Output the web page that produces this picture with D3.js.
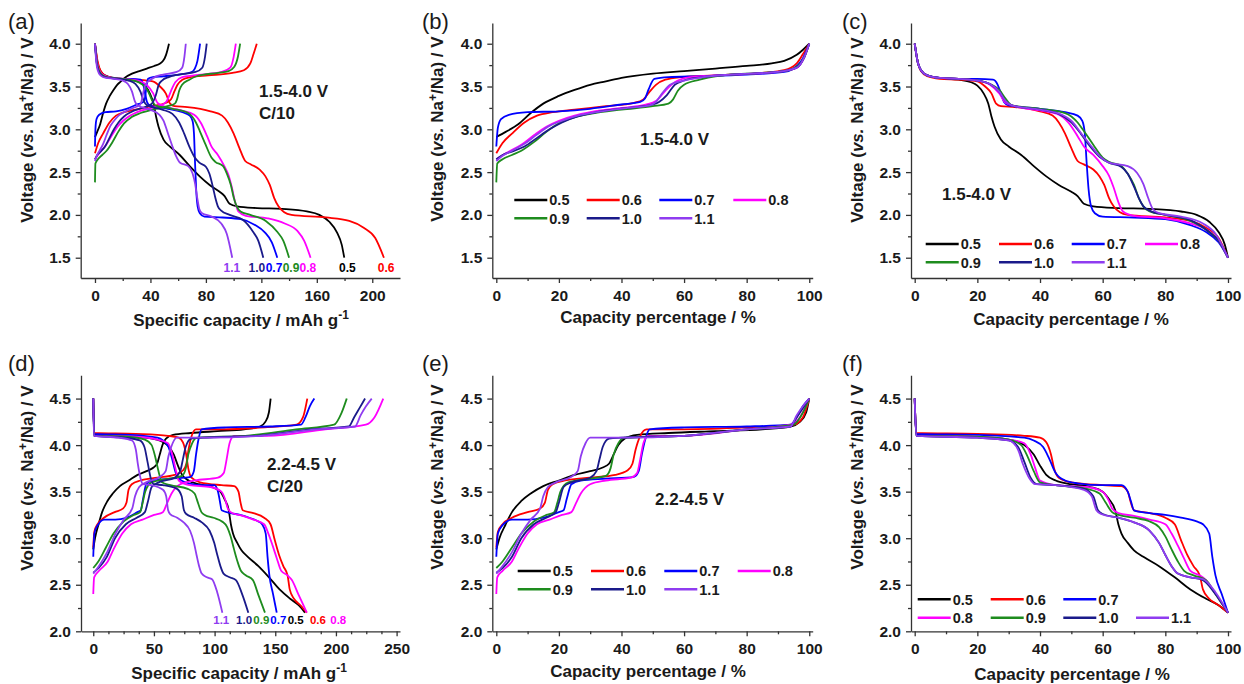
<!DOCTYPE html>
<html>
<head>
<meta charset="utf-8">
<script src="https://cdn.jsdelivr.net/npm/d3@7"></script>
<style>
  body { margin: 0; background: #fff; }
  svg { font-family: "Liberation Sans", Arial, sans-serif; }
  .tick text { font-weight: bold; font-size: 15.5px; fill: #1a1a1a; }
  .domain, .tick line { stroke: #333; stroke-width: 1.3; }
</style>
</head>
<body>
<svg id="chart" width="1244" height="684"></svg>
<script>
// series names and colours
const series = ["0.5", "0.6", "0.7", "0.8", "0.9", "1.0", "1.1"];
const colors = ["#000000", "#ff0000", "#0000ff", "#ff00ff", "#1e8c1e", "#1a1a8a", "#8f3cf0"];

// (b) charge 1.5-4.0 V, [capacity %, voltage]
const chargeLowPct = [
  [[0,2.91],[3,2.97],[7,3.06],[11,3.19],[15,3.3],[20,3.39],[25,3.46],[30,3.52],[35,3.56],[40,3.6],[50,3.65],[60,3.68],[70,3.71],[80,3.74],[88,3.77],[92,3.8],[96,3.87],[98,3.93],[100,4.0]],
  [[0,2.72],[2,2.84],[5,2.95],[9,3.08],[13,3.16],[18,3.2],[25,3.23],[35,3.27],[44,3.31],[47,3.35],[49,3.44],[51,3.52],[54,3.58],[59,3.61],[70,3.63],[85,3.66],[92,3.69],[96,3.77],[98,3.88],[100,4.0]],
  [[0,2.8],[0.5,3.02],[1.5,3.12],[4,3.17],[10,3.2],[20,3.21],[30,3.24],[40,3.29],[46,3.32],[47.5,3.36],[48.7,3.47],[50.5,3.59],[55,3.61],[65,3.62],[80,3.64],[92,3.67],[95,3.71],[97.5,3.8],[100,4.0]],
  [[0,2.65],[3,2.72],[8,2.82],[12,2.93],[16,3.03],[20,3.1],[25,3.16],[30,3.2],[40,3.25],[48,3.29],[51,3.33],[54,3.45],[57,3.55],[62,3.61],[70,3.63],[90,3.67],[96,3.72],[98.5,3.85],[100,4.0]],
  [[0,2.38],[0.3,2.6],[2,2.65],[5,2.7],[8,2.75],[12,2.85],[16,2.97],[20,3.07],[25,3.14],[30,3.18],[40,3.23],[50,3.27],[55,3.3],[56.5,3.35],[58,3.45],[60,3.52],[65,3.58],[70,3.62],[85,3.66],[92,3.68],[96,3.73],[98.5,3.85],[100,4.0]],
  [[0,2.65],[2,2.7],[5,2.74],[9,2.8],[13,2.9],[17,3.0],[21,3.08],[26,3.15],[32,3.2],[42,3.25],[50,3.29],[52,3.32],[54.5,3.4],[57,3.52],[60,3.57],[66,3.61],[75,3.64],[90,3.67],[96,3.72],[98.5,3.85],[100,4.0]],
  [[0,2.63],[2,2.69],[5,2.75],[9,2.83],[13,2.94],[17,3.04],[21,3.1],[26,3.16],[32,3.2],[42,3.25],[49,3.28],[51,3.32],[53,3.42],[55.5,3.52],[60,3.57],[66,3.61],[75,3.64],[90,3.67],[96,3.72],[98.5,3.85],[100,4.0]]
];

// (c) discharge 1.5-4.0 V, [capacity %, voltage]
const dischargeLowPct = [
  [[0,4.0],[1,3.78],[2,3.69],[4,3.63],[8,3.6],[14,3.58],[18,3.55],[20,3.51],[22,3.42],[23.5,3.3],[24.5,3.15],[25.5,3.03],[27.5,2.88],[30,2.8],[34,2.7],[38,2.57],[42,2.45],[46,2.35],[50,2.27],[52,2.22],[54,2.13],[57,2.1],[65,2.08],[75,2.07],[85,2.04],[90,2.0],[94,1.92],[97,1.8],[99,1.65],[100,1.5]],
  [[0,4.0],[1,3.78],[2,3.68],[4,3.62],[8,3.59],[14,3.58],[20,3.56],[22.5,3.5],[24.5,3.42],[26,3.3],[27.5,3.27],[32,3.26],[40,3.21],[44,3.16],[46,3.08],[48,2.95],[50,2.78],[52,2.63],[54,2.59],[57,2.53],[59,2.45],[60.5,2.35],[62,2.2],[63.5,2.1],[65.5,2.03],[68,2.0],[80,1.97],[88,1.93],[93,1.85],[97,1.73],[100,1.5]],
  [[0,4.0],[1,3.78],[2,3.69],[4,3.63],[8,3.6],[14,3.59],[20,3.59],[25,3.58],[26.5,3.52],[27.5,3.42],[28.5,3.32],[30,3.28],[40,3.24],[48,3.2],[52,3.16],[53.5,3.1],[54.3,2.95],[54.9,2.6],[55.5,2.3],[56.3,2.1],[57.5,2.02],[60,1.98],[70,1.97],[80,1.95],[88,1.88],[93,1.8],[97,1.68],[100,1.5]],
  [[0,4.0],[1,3.78],[2,3.69],[4,3.63],[8,3.6],[14,3.59],[20,3.57],[24,3.52],[27,3.42],[29,3.31],[32,3.27],[40,3.22],[46,3.17],[49,3.08],[52,2.92],[54,2.8],[57,2.7],[60,2.57],[62,2.46],[63.5,2.32],[65,2.15],[66.5,2.04],[70,1.99],[80,1.96],[88,1.9],[94,1.81],[97,1.7],[100,1.5]],
  [[0,4.0],[1,3.78],[2,3.69],[4,3.63],[8,3.6],[14,3.59],[20,3.57],[24,3.53],[27,3.46],[29,3.36],[31,3.28],[40,3.24],[48,3.19],[52,3.08],[54,2.98],[57,2.82],[60,2.67],[62,2.62],[66,2.57],[68,2.48],[70,2.35],[71.5,2.2],[73,2.1],[75,2.04],[80,2.0],[88,1.93],[94,1.8],[97,1.7],[100,1.5]],
  [[0,4.0],[1,3.78],[2,3.69],[4,3.63],[8,3.6],[14,3.59],[20,3.57],[24,3.53],[27,3.44],[29,3.33],[31,3.28],[40,3.23],[46,3.18],[50,3.08],[53,2.95],[56,2.8],[59,2.68],[62,2.61],[66,2.56],[68,2.48],[70,2.33],[71.5,2.2],[73,2.1],[75,2.05],[80,2.0],[88,1.94],[94,1.8],[97,1.7],[100,1.5]],
  [[0,4.0],[1,3.78],[2,3.69],[4,3.63],[8,3.6],[14,3.59],[20,3.57],[24,3.53],[27,3.44],[29,3.33],[31,3.28],[40,3.23],[47,3.17],[50,3.1],[53,2.96],[56,2.82],[59,2.69],[62,2.61],[68,2.57],[71,2.49],[73,2.36],[74.5,2.2],[76,2.07],[78,2.02],[85,1.98],[92,1.9],[96,1.78],[100,1.5]]
];

// (e) charge 2.2-4.5 V, [capacity %, voltage]
const chargeHighPct = [
  [[0,2.88],[1,3.0],[3,3.15],[5,3.28],[8,3.4],[11,3.48],[15,3.56],[20,3.62],[25,3.68],[30,3.72],[34,3.76],[36,3.8],[37.5,3.9],[39,4.0],[41,4.07],[45,4.11],[55,4.13],[70,4.15],[85,4.17],[94,4.2],[97,4.25],[99,4.35],[100,4.5]],
  [[0,2.9],[0.5,3.07],[2,3.15],[5,3.22],[10,3.28],[14,3.32],[15.5,3.38],[16.5,3.52],[18,3.58],[22,3.62],[30,3.65],[38,3.68],[42,3.73],[43.5,3.8],[44.5,3.95],[46,4.1],[48,4.17],[60,4.17],[80,4.19],[95,4.22],[98,4.3],[100,4.5]],
  [[0,2.8],[0.5,3.05],[2,3.14],[5,3.2],[10,3.2],[15,3.22],[20,3.28],[21.5,3.3],[22.5,3.42],[24,3.58],[27,3.62],[35,3.64],[44,3.66],[45.5,3.72],[46.5,3.9],[47.5,4.05],[49,4.17],[60,4.19],[80,4.2],[94,4.22],[96,4.3],[98,4.42],[100,4.5]],
  [[0,2.4],[0.3,2.58],[2,2.65],[5,2.75],[7,2.88],[10,3.05],[13,3.15],[17,3.2],[21,3.25],[24,3.28],[25.5,3.38],[27,3.48],[30,3.58],[35,3.62],[43,3.65],[45,3.7],[46,3.85],[47,4.02],[48.5,4.1],[60,4.1],[80,4.17],[94,4.22],[97,4.3],[100,4.5]],
  [[0,2.68],[2,2.75],[5,2.9],[8,3.05],[12,3.18],[16,3.25],[18.5,3.28],[19.5,3.38],[20.5,3.5],[23,3.6],[30,3.64],[35,3.67],[36.5,3.75],[37.5,3.9],[39,4.02],[41,4.08],[60,4.1],[80,4.17],[95,4.22],[98,4.35],[100,4.5]],
  [[0,2.63],[2,2.68],[5,2.8],[8,3.0],[12,3.15],[16,3.22],[19,3.28],[20,3.38],[21.5,3.55],[24,3.6],[30,3.65],[32,3.72],[33,3.85],[34,3.98],[36,4.07],[40,4.08],[60,4.1],[80,4.17],[94,4.2],[96,4.3],[98,4.4],[100,4.5]],
  [[0,2.62],[2,2.7],[5,2.85],[8,3.05],[11,3.2],[14,3.32],[15,3.45],[16.5,3.55],[19,3.6],[24,3.66],[26,3.72],[27,3.88],[28.5,4.02],[30,4.08],[40,4.08],[60,4.1],[80,4.17],[94,4.2],[96,4.32],[98,4.42],[100,4.5]]
];

// (f) discharge 2.2-4.5 V, [capacity %, voltage]
const dischargeHighPct = [
  [[0,4.5],[0.5,4.12],[10,4.1],[20,4.09],[30,4.06],[35,4.0],[38,3.9],[40,3.78],[42,3.68],[45,3.62],[50,3.58],[56,3.55],[60,3.5],[62,3.42],[64,3.3],[65,3.15],[66,3.05],[68,2.95],[70,2.87],[73,2.8],[78,2.7],[83,2.58],[88,2.45],[93,2.35],[97,2.28],[100,2.2]],
  [[0,4.5],[0.5,4.13],[20,4.12],[35,4.1],[40,4.08],[42,4.03],[43.5,3.9],[44.5,3.75],[46,3.65],[50,3.6],[60,3.57],[66,3.56],[68,3.5],[69,3.38],[70,3.3],[75,3.27],[80,3.22],[83,3.15],[85,2.98],[87,2.82],[89,2.7],[91,2.6],[92,2.45],[94,2.35],[97,2.28],[100,2.2]],
  [[0,4.5],[0.5,4.12],[20,4.11],[35,4.08],[38,4.05],[41,3.98],[43,3.85],[45,3.7],[48,3.62],[52,3.59],[60,3.57],[66,3.57],[68,3.5],[69,3.4],[70,3.3],[75,3.27],[80,3.25],[85,3.22],[90,3.18],[92,3.15],[94,3.05],[95,2.8],[96,2.6],[98,2.4],[100,2.2]],
  [[0,4.5],[0.5,4.1],[20,4.09],[30,4.06],[35,4.02],[37,3.9],[38.5,3.75],[40,3.62],[45,3.57],[55,3.55],[60,3.5],[62,3.4],[63,3.32],[65,3.27],[70,3.24],[75,3.2],[80,3.15],[82,3.05],[84,2.92],[86,2.78],[88,2.65],[91,2.6],[93,2.55],[96,2.4],[100,2.2]],
  [[0,4.5],[0.5,4.1],[20,4.09],[30,4.06],[34,4.0],[36,3.88],[38,3.72],[40,3.6],[45,3.57],[55,3.53],[59,3.48],[61,3.38],[63,3.28],[65,3.25],[70,3.22],[75,3.18],[78,3.12],[80,3.02],[82,2.88],[84,2.75],[86,2.65],[89,2.6],[93,2.55],[96,2.4],[100,2.2]],
  [[0,4.5],[0.5,4.1],[20,4.08],[30,4.05],[33,3.98],[35,3.82],[37,3.65],[39,3.58],[45,3.57],[54,3.53],[57,3.45],[58.5,3.3],[60,3.26],[65,3.22],[70,3.17],[75,3.08],[78,2.95],[80,2.82],[82,2.7],[84,2.62],[88,2.58],[92,2.55],[96,2.4],[100,2.2]],
  [[0,4.5],[0.5,4.1],[20,4.08],[30,4.05],[33,3.95],[34.5,3.8],[36.5,3.65],[38.5,3.58],[45,3.57],[54,3.52],[56.5,3.45],[58,3.3],[59.5,3.26],[65,3.22],[70,3.17],[75,3.08],[78,2.95],[80,2.82],[82,2.7],[84,2.62],[88,2.58],[92,2.56],[96,2.42],[100,2.2]]
];

// full capacities (mAh/g) read at the curve ends in (a) and (d)
const capChargeLow = [53.4, 116.7, 75.8, 101.6, 104.7, 80.6, 65.5];
const capDischargeLow = [179.8, 208.4, 131.5, 155.5, 140, 121.4, 99];
const capChargeHigh = [146.2, 176.4, 182.2, 239, 208.9, 224, 229.5];
const capDischargeHigh = [174.5, 176, 151.2, 176, 141.5, 127.8, 106.4];

// capacity where the end labels sit in (a) and (d)
const labelLowX = [182, 210, 129.1, 153.6, 141.4, 116.8, 98.7];
const labelHighX = [166.8, 185.2, 152.5, 201.9, 138.5, 124.3, 105.5];

// tick values
const lowYTicks = [1.5, 2.0, 2.5, 3.0, 3.5, 4.0];
const lowYMinor = [1.75, 2.25, 2.75, 3.25, 3.75];
const highYTicks = [2.0, 2.5, 3.0, 3.5, 4.0, 4.5];
const highYMinor = [2.25, 2.75, 3.25, 3.75, 4.25];
const capLowTicks = [0, 40, 80, 120, 160, 200];
const capLowMinor = [20, 60, 100, 140, 180];
const capHighTicks = [0, 50, 100, 150, 200, 250];
const capHighMinor = [12.5, 25, 37.5, 62.5, 75, 87.5, 112.5, 125, 137.5, 162.5, 175, 187.5, 212.5, 225, 237.5];
const pctTicks = [0, 20, 40, 60, 80, 100];
const pctMinor = [10, 30, 50, 70, 90];

const svg = d3.select("#chart");

// scale a percentage curve to absolute capacity
const toCap = (curve, cap) => curve.map(p => [p[0] * cap / 100, p[1]]);

function drawPanel(cfg) {
  const x = d3.scaleLinear().domain(cfg.xDom).range(cfg.xRange);
  const y = d3.scaleLinear().domain(cfg.yDom).range(cfg.yRange);
  const g = svg.append("g");

  // minor ticks first
  g.append("g")
    .attr("transform", `translate(0,${cfg.yRange[0]})`)
    .call(d3.axisBottom(x).tickValues(cfg.xMinor).tickSize(3).tickFormat(""))
    .call(s => s.select(".domain").remove());
  g.append("g")
    .attr("transform", `translate(${cfg.xRange[0]},0)`)
    .call(d3.axisLeft(y).tickValues(cfg.yMinor).tickSize(3).tickFormat(""))
    .call(s => s.select(".domain").remove());

  g.append("g")
    .attr("transform", `translate(0,${cfg.yRange[0]})`)
    .call(d3.axisBottom(x).tickValues(cfg.xTicks).tickSize(5).tickSizeOuter(0).tickPadding(7).tickFormat(d3.format("d")));
  g.append("g")
    .attr("transform", `translate(${cfg.xRange[0]},0)`)
    .call(d3.axisLeft(y).tickValues(cfg.yTicks).tickSize(5).tickSizeOuter(0).tickPadding(5).tickFormat(d3.format(".1f")));

  // panel letter
  g.append("text")
    .attr("x", cfg.letterPos[0]).attr("y", cfg.letterPos[1])
    .attr("font-size", 22).attr("fill", "#1a1a1a")
    .text(cfg.letter);

  // y title
  const yt = g.append("text")
    .attr("transform", `translate(${cfg.yTitlePos[0]},${cfg.yTitlePos[1]}) rotate(-90)`)
    .attr("text-anchor", "middle")
    .attr("font-size", 17).attr("font-weight", "bold").attr("fill", "#1a1a1a");
  yt.append("tspan").text("Voltage (");
  yt.append("tspan").attr("font-style", "italic").text("vs.");
  yt.append("tspan").text(" Na");
  yt.append("tspan").attr("font-size", 12).attr("dy", -6).text("+");
  yt.append("tspan").attr("dy", 6).text("/Na) / V");

  // x title
  const xt = g.append("text")
    .attr("x", cfg.xTitlePos[0]).attr("y", cfg.xTitlePos[1])
    .attr("text-anchor", "middle")
    .attr("font-size", 17).attr("font-weight", "bold").attr("fill", "#1a1a1a");
  if (cfg.xTitle === "cap") {
    xt.append("tspan").text("Specific capacity / mAh g");
    xt.append("tspan").attr("font-size", 12).attr("dy", -7).text("-1");
  } else {
    xt.text("Capacity percentage / %");
  }

  const line = d3.line()
    .x(d => x(d[0]))
    .y(d => y(d[1]))
    .curve(d3.curveMonotoneX);

  cfg.curves.forEach(c => {
    g.append("path")
      .attr("d", line(c.pts))
      .attr("fill", "none")
      .attr("stroke", colors[c.i])
      .attr("stroke-width", 1.8)
      .attr("stroke-linejoin", "round");
  });

  // annotation text
  (cfg.notes || []).forEach(n => {
    g.append("text")
      .attr("x", n[0]).attr("y", n[1])
      .attr("font-size", 17).attr("font-weight", "bold").attr("fill", "#1a1a1a")
      .text(n[2]);
  });

  // labels at curve ends
  if (cfg.endLabels) {
    series.forEach((s, i) => {
      g.append("text")
        .attr("x", x(cfg.endLabels.xs[i]))
        .attr("y", cfg.endLabels.y)
        .attr("text-anchor", "middle")
        .attr("font-size", cfg.endLabels.size).attr("font-weight", "bold")
        .attr("fill", colors[i])
        .text(s);
    });
  }

  // legend
  if (cfg.legend) {
    cfg.legend.rows.forEach((row, r) => {
      row.forEach((idx, c) => {
        const lx = cfg.legend.cols[c], ly = cfg.legend.ys[r];
        g.append("line")
          .attr("x1", lx).attr("x2", lx + 33)
          .attr("y1", ly).attr("y2", ly)
          .attr("stroke", colors[idx]).attr("stroke-width", 2.4);
        g.append("text")
          .attr("x", lx + 35).attr("y", ly + 5.2)
          .attr("font-size", 14.5).attr("font-weight", "bold").attr("fill", "#1a1a1a")
          .text(series[idx]);
      });
    });
  }
}

const lowY = { yDom: [1.263, 4.242], yRange: [278, 23], yTicks: lowYTicks, yMinor: lowYMinor };
const highY = { yDom: [2.0, 4.75], yRange: [631.3, 375.3], yTicks: highYTicks, yMinor: highYMinor };
const rows4 = [[0, 1, 2, 3], [4, 5, 6]];

// (a)
drawPanel(Object.assign({}, lowY, {
  xDom: [-10.3, 220], xRange: [80.7, 400], xTicks: capLowTicks, xMinor: capLowMinor,
  letter: "(a)", letterPos: [8, 29], yTitlePos: [33, 130], xTitle: "cap", xTitlePos: [241, 326],
  curves: series.flatMap((s, i) => [
    { i, pts: toCap(chargeLowPct[i], capChargeLow[i]) },
    { i, pts: toCap(dischargeLowPct[i], capDischargeLow[i]) }
  ]),
  notes: [[259, 97, "1.5-4.0 V"], [259, 118.5, "C/10"]],
  endLabels: { xs: labelLowX, y: 271.5, size: 12 }
}));

// (b)
drawPanel(Object.assign({}, lowY, {
  xDom: [-1.28, 101.1], xRange: [492.3, 812.7], xTicks: pctTicks, xMinor: pctMinor,
  letter: "(b)", letterPos: [422, 29], yTitlePos: [443, 129], xTitle: "pct", xTitlePos: [658, 323],
  curves: series.map((s, i) => ({ i, pts: chargeLowPct[i] })),
  notes: [[640, 145, "1.5-4.0 V"]],
  legend: { rows: rows4, cols: [514.3, 586.7, 659.3, 733.3], ys: [200, 218.3] }
}));

// (c)
drawPanel(Object.assign({}, lowY, {
  xDom: [-1.18, 100.96], xRange: [911, 1231], xTicks: pctTicks, xMinor: pctMinor,
  letter: "(c)", letterPos: [842, 29], yTitlePos: [863, 130], xTitle: "pct", xTitlePos: [1071, 325],
  curves: series.map((s, i) => ({ i, pts: dischargeLowPct[i] })),
  notes: [[942, 200, "1.5-4.0 V"]],
  legend: { rows: rows4, cols: [925.7, 999, 1071.7, 1145], ys: [244, 262.3] }
}));

// (d)
drawPanel(Object.assign({}, highY, {
  xDom: [-10.1, 252.8], xRange: [81, 400], xTicks: capHighTicks, xMinor: capHighMinor,
  letter: "(d)", letterPos: [8, 371], yTitlePos: [33, 478], xTitle: "cap", xTitlePos: [239, 679],
  curves: series.flatMap((s, i) => [
    { i, pts: toCap(chargeHighPct[i], capChargeHigh[i]) },
    { i, pts: toCap(dischargeHighPct[i], capDischargeHigh[i]) }
  ]),
  notes: [[267, 470, "2.2-4.5 V"], [267, 492, "C/20"]],
  endLabels: { xs: labelHighX, y: 623.5, size: 11.5 }
}));

// (e)
drawPanel(Object.assign({}, highY, {
  xDom: [-1.28, 101.1], xRange: [492.3, 812.7], xTicks: pctTicks, xMinor: pctMinor,
  letter: "(e)", letterPos: [422, 371], yTitlePos: [443, 477], xTitle: "pct", xTitlePos: [648, 677],
  curves: series.map((s, i) => ({ i, pts: chargeHighPct[i] })),
  notes: [[655, 505, "2.2-4.5 V"]],
  legend: { rows: rows4, cols: [517.7, 591, 664.3, 737.7], ys: [571, 589.3] }
}));

// (f)
drawPanel(Object.assign({}, highY, {
  xDom: [-1.18, 100.96], xRange: [911, 1231], xTicks: pctTicks, xMinor: pctMinor,
  letter: "(f)", letterPos: [842, 371], yTitlePos: [863, 477], xTitle: "pct", xTitlePos: [1072, 680],
  curves: series.map((s, i) => ({ i, pts: dischargeHighPct[i] })),
  legend: { rows: [[0, 1, 2], [3, 4, 5, 6]], cols: [917.7, 990.7, 1063.3, 1136], ys: [599.3, 617.7] }
}));
</script>
</body>
</html>
